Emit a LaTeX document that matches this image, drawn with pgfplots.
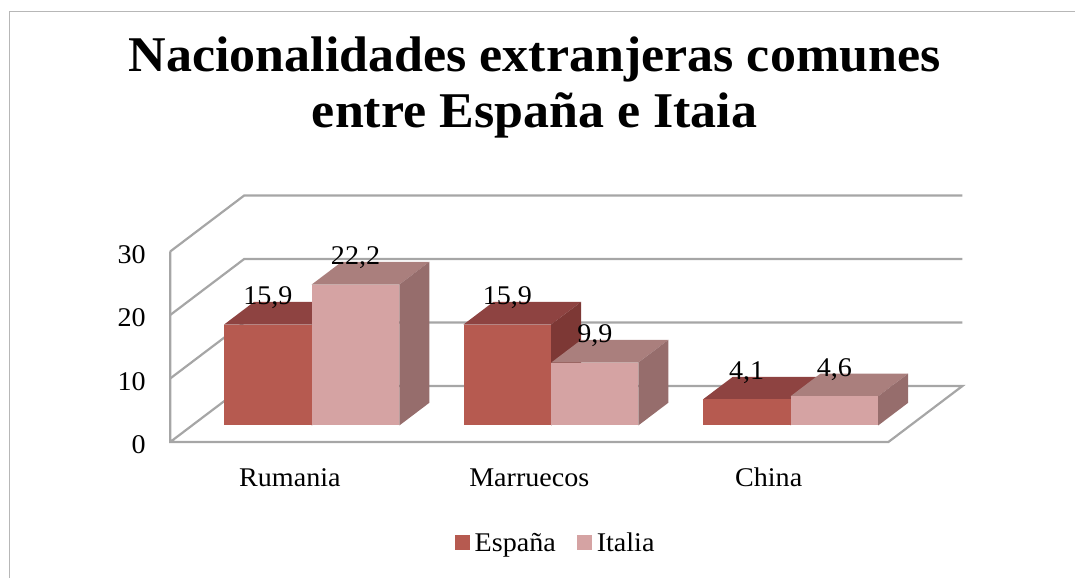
\documentclass[border=0pt]{standalone}
\usepackage{pgfplots}
\pgfplotsset{compat=1.18}
\usepackage{fontspec}
\setmainfont[FakeStretch=1.04]{Liberation Serif}
\definecolor{gridc}{HTML}{A6A6A6}
\definecolor{frontA}{HTML}{B65A50}
\definecolor{topA}{HTML}{8E4341}
\definecolor{sideA}{HTML}{7D3835}
\definecolor{frontB}{HTML}{D5A3A3}
\definecolor{topB}{HTML}{AA7F7D}
\definecolor{sideB}{HTML}{966D6C}
% #1 left, #2 right, #3 value, #4 colour suffix
\newcommand{\barbox}[4]{%
  \addplot3[fill=top#4,draw=none,forget plot] coordinates {(#1,0.295,#3) (#2,0.295,#3) (#2,0.70,#3) (#1,0.70,#3)};
  \addplot3[fill=side#4,draw=none,forget plot] coordinates {(#2,0.295,0) (#2,0.70,0) (#2,0.70,#3) (#2,0.295,#3)};
  \addplot3[fill=front#4,draw=none,forget plot] coordinates {(#1,0.295,0) (#2,0.295,0) (#2,0.295,#3) (#1,0.295,#3)};
}
\newcommand{\wall}[1]{%
  \addplot3[gridc,line width=2.2pt,forget plot] coordinates {(0,0,#1) (0,1,#1) (3,1,#1)};
}
\begin{document}
\begin{tikzpicture}[x=1pt,y=1pt]
\useasboundingbox (0,0) rectangle (1075,578);
\draw[color=gridc!110!black,line width=1.4pt] (9.5,0) -- (9.5,566.5) -- (1075,566.5);
\begin{axis}[
  at={(170.2pt,136pt)}, anchor=origin,
  x={(239.4pt,0pt)}, y={(74pt,56pt)}, z={(0pt,6.35pt)},
  xmin=0,xmax=3,ymin=0,ymax=1,zmin=0,zmax=30,
  clip=false,
  axis line style={draw=none},
  major tick length=0pt,
  xtick={0.5,1.5,2.5},
  xticklabels={Rumania,Marruecos,China},
  ytick=\empty,
  ztick={0,10,20,30},
  tick label style={font=\fontsize{27}{30}\selectfont},
  xticklabel style={anchor=center,yshift=-35.5pt},
  zticklabel style={anchor=east,xshift=-21pt,yshift=-3pt},
  /pgf/number format/assume math mode=true,
  title={Nacionalidades extranjeras comunes\\entre España e Itaia},
  title style={font=\fontsize{50}{56}\selectfont\bfseries,align=center,at={(0.460,1.413)},anchor=center},
  legend style={at={(0.4865,-0.409)},anchor=center,draw=none,fill=none,legend columns=2,
    font=\fontsize{27}{30}\selectfont,
    /tikz/every even column/.append style={column sep=19pt},
    /tikz/every odd column/.append style={column sep=3pt}},
  legend image code/.code={\fill[#1] (0pt,-7.5pt) rectangle (15pt,7.5pt);},
]
\addlegendimage{fill=frontA,draw=none}
\addlegendentry{España}
\addlegendimage{fill=frontB,draw=none}
\addlegendentry{Italia}
% walls and floor
\wall{10}\wall{20}\wall{30}
\addplot3[gridc,line width=2.2pt,forget plot] coordinates {(0,0,30) (0,0,0) (3,0,0) (3,1,0) (0,1,0) (0,0,0)};
% bars
\barbox{0.134}{0.5}{15.9}{A}
\barbox{0.5}{0.866}{22.2}{B}
\barbox{1.134}{1.5}{15.9}{A}
\barbox{1.5}{1.864}{9.9}{B}
\barbox{2.134}{2.5}{4.1}{A}
\barbox{2.5}{2.866}{4.6}{B}
% data labels
\addplot3[only marks,mark=none,forget plot,point meta=z,
  nodes near coords,
  nodes near coords style={anchor=center,yshift=27pt,font=\fontsize{27}{30}\selectfont,text=black,
    /pgf/number format/.cd,fixed,fixed zerofill,precision=1,use comma,assume math mode=true}]
  coordinates {(0.317,0.295,15.9) (0.683,0.295,22.2) (1.317,0.295,15.9) (1.683,0.295,9.9) (2.317,0.295,4.1) (2.683,0.295,4.6)};
\end{axis}
\end{tikzpicture}
\end{document}
